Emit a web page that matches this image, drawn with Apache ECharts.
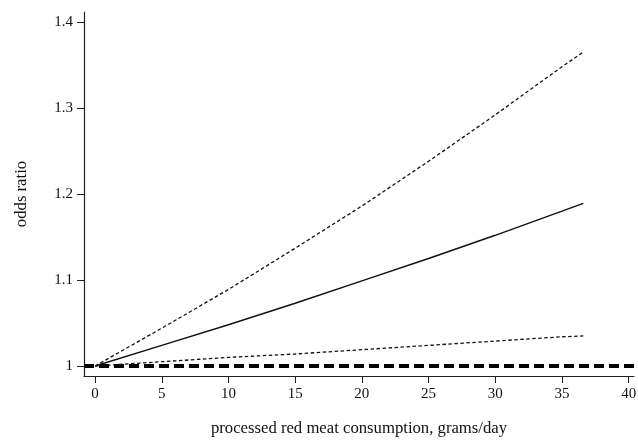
<!DOCTYPE html>
<html>
<head>
<meta charset="utf-8">
<script src="https://cdn.jsdelivr.net/npm/echarts@6/dist/echarts.min.js"></script>
<style>html,body{margin:0;padding:0;background:#fff;}#c{width:638px;height:442px;}</style>
</head>
<body>
<div id="c"></div>
<script>
const xValues = [0, 5, 10, 15, 20, 25, 30, 35, 36.6];
const upperCI = [1, 1.044, 1.089, 1.137, 1.186, 1.238, 1.292, 1.348, 1.365];
const oddsRatio = [1, 1.024, 1.048, 1.073, 1.099, 1.125, 1.152, 1.180, 1.189];
const lowerCI = [1, 1.005, 1.010, 1.014, 1.019, 1.024, 1.029, 1.034, 1.035];
const refX = [-0.83, 40.4];
const refY = [1, 1];
const xTicks = [0, 5, 10, 15, 20, 25, 30, 35, 40];
const yTicks = [1, 1.1, 1.2, 1.3, 1.4];

const pair = (xs, ys) => xs.map((x, i) => [x, ys[i]]);
const font = 'Liberation Serif';
const chart = echarts.init(document.getElementById('c'), null, {renderer: 'canvas'});
chart.setOption({
  animation: false,
  grid: {left: 84, top: 12, right: 4, bottom: 66, containLabel: false, outerBoundsMode: 'none'},
  xAxis: {
    type: 'value', min: -0.83, max: 40.4,
    name: 'processed red meat consumption, grams/day',
    nameLocation: 'middle', nameGap: 44,
    nameTextStyle: {fontFamily: font, fontSize: 16.7, color: '#111'},
    axisLine: {show: true, onZero: false, lineStyle: {color: '#222', width: 1.2}},
    axisTick: {show: true, length: 7, lineStyle: {color: '#222'}, customValues: xTicks},
    axisLabel: {fontFamily: font, fontSize: 15, color: '#111', margin: 11, customValues: xTicks},
    splitLine: {show: false}
  },
  yAxis: {
    type: 'value', min: 0.9884, max: 1.4116,
    name: 'odds ratio', nameLocation: 'middle', nameGap: 54, nameRotate: 90,
    nameTextStyle: {fontFamily: font, fontSize: 16.7, color: '#111'},
    axisLine: {show: true, onZero: false, lineStyle: {color: '#222', width: 1.2}},
    axisTick: {show: true, length: 7, lineStyle: {color: '#222'}, customValues: yTicks},
    axisLabel: {fontFamily: font, fontSize: 15, color: '#111', margin: 11, customValues: yTicks,
      formatter: v => String(Math.round(v * 10) / 10)},
    splitLine: {show: false}
  },
  series: [
    {type: 'line', data: pair(refX, refY), symbol: 'none', z: 1,
      lineStyle: {color: '#000', width: 4, type: [10, 5]}},
    {type: 'line', data: pair(xValues, upperCI), symbol: 'none', z: 2,
      lineStyle: {color: '#111', width: 1.3, type: [3.5, 2.5]}},
    {type: 'line', data: pair(xValues, oddsRatio), symbol: 'none', z: 2,
      lineStyle: {color: '#111', width: 1.4, type: 'solid'}},
    {type: 'line', data: pair(xValues, lowerCI), symbol: 'none', z: 2,
      lineStyle: {color: '#111', width: 1.3, type: [3.5, 2.5]}}
  ]
});
</script>
</body>
</html>
